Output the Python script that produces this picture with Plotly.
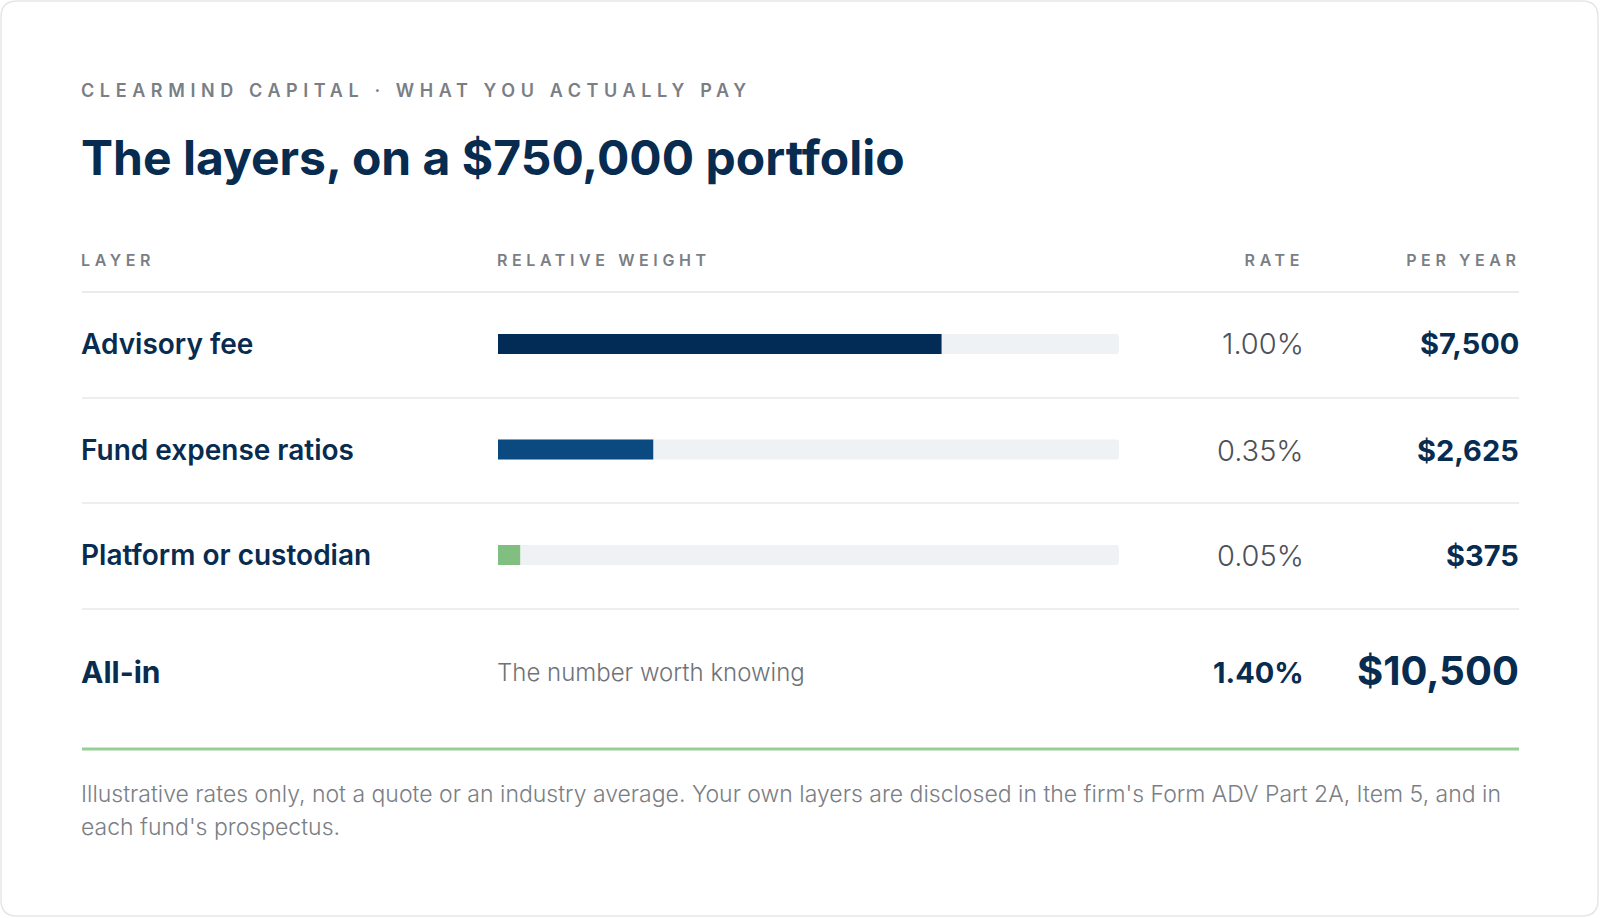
import json

import plotly.graph_objects as go

W, H = 1600, 918

# ---------------------------------------------------------------------------
# Data
# ---------------------------------------------------------------------------
layers = ["Advisory fee", "Fund expense ratios", "Platform or custodian"]
rates = [1.00, 0.35, 0.05]  # % per year
per_year = [7500, 2625, 375]  # $ per year
bar_colors = ["#022c55", "#0b4a80", "#80bf80"]
all_in_rate = 1.40
all_in_dollars = 10500

NAVY = "#082b50"
GREY = "#7a7e85"
FONT = "Inter"


def fx(x):
    return x / W


def fy(y):
    return 1 - y / H


ROW_Y = [344, 450, 555]
PITCH = 105.5
TRACK_X0, TRACK_X1 = 498, 1119
RATE_X, YEAR_X, LEFT_X = 1301, 1519, 82

fig = go.Figure()

# grey track behind every bar
fig.add_trace(
    go.Bar(
        y=layers,
        x=[all_in_rate] * len(layers),
        orientation="h",
        marker=dict(color="#eef2f5", line_width=0),
        width=0.19,
        hoverinfo="skip",
    )
)
fig.add_trace(
    go.Bar(
        y=layers,
        x=rates,
        orientation="h",
        marker=dict(color=bar_colors, line_width=0),
        width=0.19,
        hoverinfo="skip",
    )
)

ann = []


def text(x, y, s, size, color=NAVY, weight=400, anchor="left"):
    # annotation boxes carry a few px of padding; pull the glyphs onto the grid
    x = x - 3 if anchor == "left" else x
    ann.append(
        dict(
            x=fx(x),
            y=fy(y),
            xref="paper",
            yref="paper",
            text=s,
            showarrow=False,
            xanchor=anchor,
            align=anchor,
            yanchor="middle",
            font=dict(family=FONT, size=size, color=color, weight=weight),
        )
    )


# tracked (letter-spaced) caps, spacing in px
tracking = {
    "CLEARMIND CAPITAL · WHAT YOU ACTUALLY PAY": 5.6,
    "LAYER": 4.6,
    "RELATIVE WEIGHT": 4.6,
    "RATE": 4.6,
    "PER YEAR": 4.6,
}

text(LEFT_X, 91, "CLEARMIND CAPITAL · WHAT YOU ACTUALLY PAY", 18, GREY, 600)
text(LEFT_X, 158, "The layers, on a $750,000 portfolio", 48, NAVY, 700)

text(LEFT_X, 260, "LAYER", 16, GREY, 600)
text(TRACK_X0, 260, "RELATIVE WEIGHT", 16, GREY, 600)
text(RATE_X + 4.6, 260, "RATE", 16, GREY, 600, "right")
text(YEAR_X + 3.6, 260, "PER YEAR", 16, GREY, 600, "right")

for name, r, d, y in zip(layers, rates, per_year, ROW_Y):
    text(LEFT_X, y, name, 28, NAVY, 600)
    text(RATE_X + 5, y, f"{r:.2f}%", 29, "#4d5158", 300, "right")
    text(YEAR_X + 2, y, f"${d:,}", 29, NAVY, 700, "right")

text(LEFT_X, 672, "All-in", 30, NAVY, 700)
text(TRACK_X0, 672, "The number worth knowing", 24, "#6e7279", 300)
text(RATE_X + 5, 672, f"{all_in_rate:.2f}%", 29, NAVY, 700, "right")
text(YEAR_X + 2, 670, f"${all_in_dollars:,}", 40, NAVY, 700, "right")

text(
    LEFT_X,
    794,
    "Illustrative rates only, not a quote or an industry average. "
    "Your own layers are disclosed in the firm's Form ADV Part 2A, Item 5, and in",
    23,
    GREY,
    300,
)
text(LEFT_X, 827, "each fund's prospectus.", 23, GREY, 300)

# separators
shapes = []
for y, c, w in [(292, "#e2e6ea", 1.5), (398, "#e6e9ed", 1.5), (503, "#e6e9ed", 1.5),
                (609, "#e6e9ed", 1.5), (749, "#96cf96", 3)]:
    shapes.append(
        dict(type="line", xref="paper", yref="paper", x0=fx(LEFT_X), x1=fx(YEAR_X),
             y0=fy(y), y1=fy(y), line=dict(color=c, width=w))
    )

# card outline with rounded corners
r = 16
x0, x1, y0, y1 = 1, 1598, 1, 916
path = (
    f"M {fx(x0 + r)} {fy(y0)} L {fx(x1 - r)} {fy(y0)} "
    f"Q {fx(x1)} {fy(y0)} {fx(x1)} {fy(y0 + r)} L {fx(x1)} {fy(y1 - r)} "
    f"Q {fx(x1)} {fy(y1)} {fx(x1 - r)} {fy(y1)} L {fx(x0 + r)} {fy(y1)} "
    f"Q {fx(x0)} {fy(y1)} {fx(x0)} {fy(y1 - r)} L {fx(x0)} {fy(y0 + r)} "
    f"Q {fx(x0)} {fy(y0)} {fx(x0 + r)} {fy(y0)} Z"
)
shapes.append(dict(type="path", xref="paper", yref="paper", path=path,
                   line=dict(color="#e3e6ea", width=1.5), layer="below"))

fig.update_layout(
    width=W,
    height=H,
    margin=dict(l=0, r=0, t=0, b=0),
    paper_bgcolor="white",
    plot_bgcolor="white",
    showlegend=False,
    barmode="overlay",
    barcornerradius=3,
    annotations=ann,
    shapes=shapes,
    xaxis=dict(domain=[fx(TRACK_X0), fx(TRACK_X1)], range=[0, all_in_rate],
               visible=False, fixedrange=True),
    yaxis=dict(domain=[fy(ROW_Y[-1] + PITCH / 2), fy(ROW_Y[0] - PITCH / 2)],
               range=[len(layers) - 0.5, -0.5], visible=False, fixedrange=True),
)

post = """
document.body.style.margin = '0';
var tracking = %s;
document.querySelectorAll('text.annotation-text').forEach(function (t) {
  var ls = tracking[t.textContent];
  if (ls) { t.style.letterSpacing = ls + 'px'; }
});
""" % json.dumps(tracking)

fig.write_html("out.html", config={"displayModeBar": False}, post_script=post)
